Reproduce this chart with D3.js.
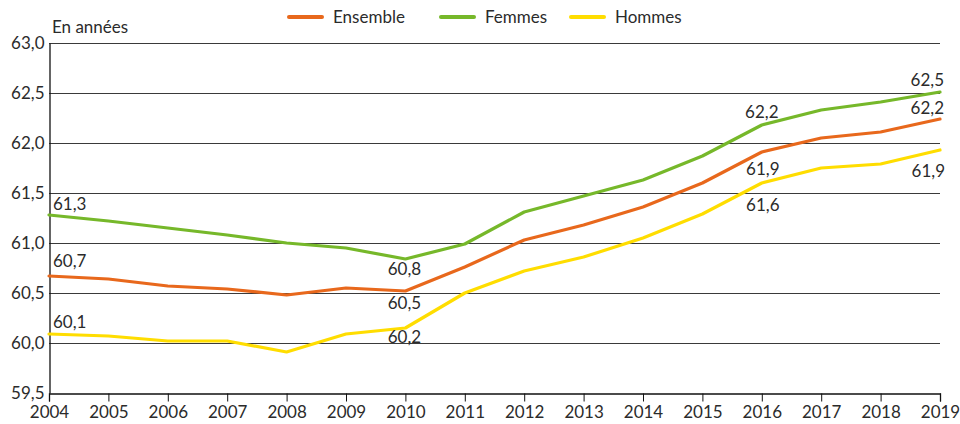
<!DOCTYPE html>
<html><head><meta charset="utf-8">
<script src="https://cdn.jsdelivr.net/npm/d3@7"></script>
<style>body{margin:0;background:#fff}svg{display:block}text{font-family:Lato,"Open Sans",sans-serif;font-weight:400;fill:#2b2b2b}</style>
</head><body><svg id="c" width="960" height="424"></svg>
<script>
const years = [2004,2005,2006,2007,2008,2009,2010,2011,2012,2013,2014,2015,2016,2017,2018,2019];
const ensemble = [60.67,60.64,60.57,60.54,60.48,60.55,60.52,60.76,61.03,61.18,61.36,61.60,61.91,62.05,62.11,62.24];
const femmes   = [61.28,61.22,61.15,61.08,61.00,60.95,60.84,60.99,61.31,61.47,61.63,61.87,62.18,62.33,62.41,62.51];
const hommes   = [60.09,60.07,60.02,60.02,59.91,60.09,60.15,60.50,60.72,60.86,61.05,61.29,61.60,61.75,61.79,61.93];
const yTicks = [59.5,60.0,60.5,61.0,61.5,62.0,62.5,63.0];
const seriesNames = ["Ensemble","Femmes","Hommes"];
const colors = ["#E8681C","#76B82A","#FFDD00"];
// value labels: [seriesIndex, yearIndex, text]
const labels = [
  [1,0,"61,3"],[0,0,"60,7"],[2,0,"60,1"],
  [1,6,"60,8"],[0,6,"60,5"],[2,6,"60,2"],
  [1,12,"62,2"],[0,12,"61,9"],[2,12,"61,6"],
  [1,15,"62,5"],[0,15,"62,2"],[2,15,"61,9"]
];
// label placement (style): [dx, dy of glyph centre from point, anchor]
const labelPlace = [
  [4,-11,"start"],[4,-15,"start"],[4,-12,"start"],
  [-1,10,"middle"],[-1,12,"middle"],[-1,9,"middle"],
  [0,-13,"middle"],[1,17,"middle"],[1,22,"middle"],
  [4,-12,"end"],[4,-11,"end"],[5,21,"end"]
];

const svg = d3.select("#c");
const x = d3.scaleLinear().domain([2004,2019]).range([49,940]);
const y = d3.scaleLinear().domain([59.5,63]).range([393,43]);
const fmt = v => d3.format(".1f")(v).replace(".",",");

// gridlines
svg.append("g").selectAll("line").data(yTicks.slice(1)).join("line")
  .attr("x1",49).attr("x2",940).attr("y1",d=>Math.round(y(d))+0.5).attr("y2",d=>Math.round(y(d))+0.5)
  .attr("stroke","#3a3a3a").attr("stroke-width",1);

// y axis
const ya = svg.append("g").attr("transform","translate(49.5,0)")
  .call(d3.axisLeft(y).tickValues(yTicks).tickFormat(fmt).tickSize(0).tickPadding(5));
ya.select(".domain").attr("stroke","#111").attr("stroke-width",1.3);
ya.selectAll("text").style("font-size","17px").attr("fill","#2b2b2b").attr("font-family",null);

// x axis
const xa = svg.append("g").attr("transform","translate(0,393.5)")
  .call(d3.axisBottom(x).tickValues(years).tickFormat(d3.format("d")).tickSize(8).tickPadding(4));
xa.select(".domain").attr("stroke","#111").attr("stroke-width",1.3);
xa.selectAll(".tick line").attr("stroke","#111");
xa.selectAll("text").style("font-size","17px").attr("fill","#2b2b2b").attr("font-family",null);

// lines
const data = [ensemble,femmes,hommes];
const line = d3.line().x((d,i)=>x(years[i])).y(d=>y(d));
svg.append("g").selectAll("path").data([1,0,2]).join("path")
  .attr("d",k=>line(data[k])).attr("fill","none")
  .attr("stroke",k=>colors[k]).attr("stroke-width",3.2).attr("stroke-linejoin","round").attr("stroke-linecap","round");

// data labels
svg.append("g").selectAll("text").data(labels).join("text")
  .attr("x",(d,i)=>x(years[d[1]])+labelPlace[i][0])
  .attr("y",(d,i)=>y(data[d[0]][d[1]])+labelPlace[i][1])
  .attr("dy","0.36em")
  .attr("text-anchor",(d,i)=>labelPlace[i][2])
  .style("font-size","17px").text(d=>d[2]);

// unit label
svg.append("text").attr("x",52).attr("y",27).attr("dy","0.36em").style("font-size","17px").text("En années");

// legend
const legX = [289,441,571];
const lg = svg.append("g").selectAll("g").data(seriesNames).join("g")
  .attr("transform",(d,i)=>`translate(${legX[i]},17)`);
lg.append("line").attr("x1",0).attr("x2",33).attr("stroke",(d,i)=>colors[i])
  .attr("stroke-width",4).attr("stroke-linecap","round");
lg.append("text").attr("x",44).attr("dy","0.36em").style("font-size","17px").text(d=>d);
</script></body></html>
